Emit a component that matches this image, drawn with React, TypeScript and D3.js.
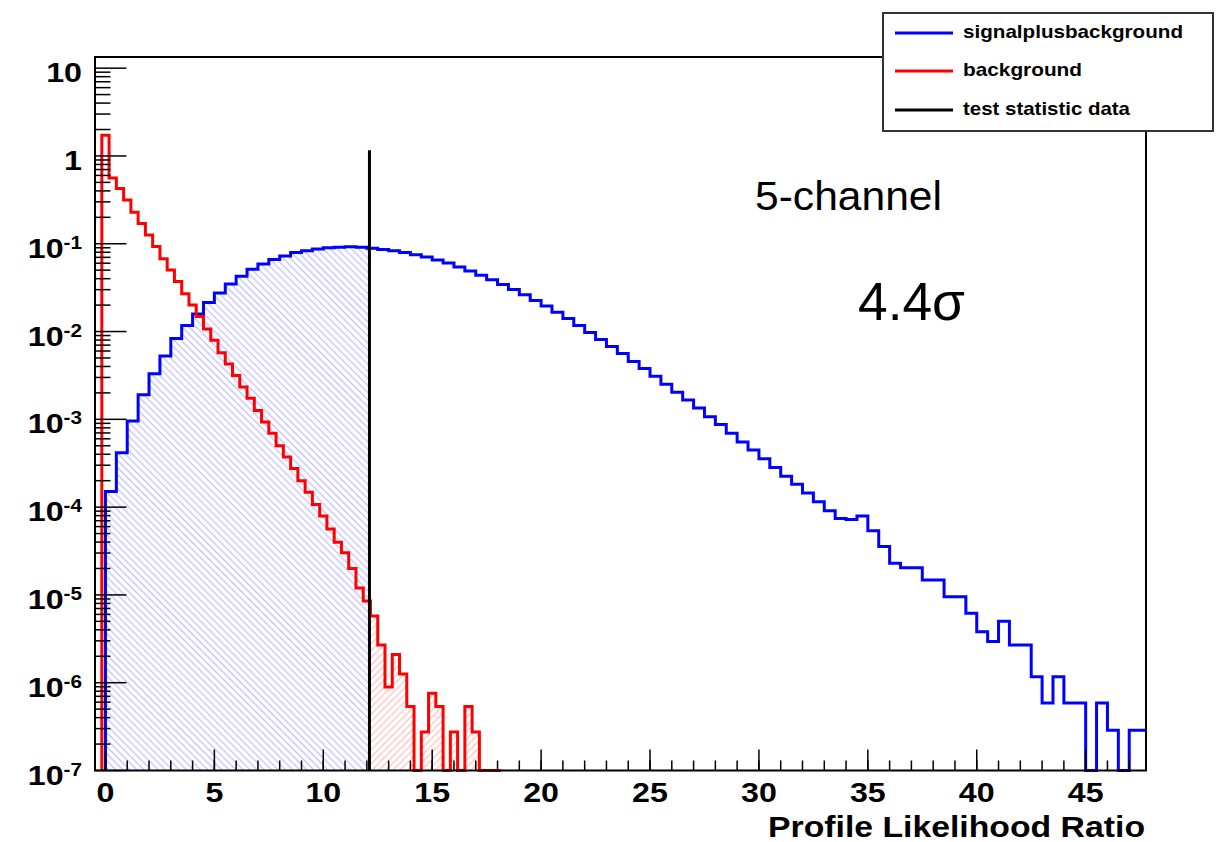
import React from 'react';
import * as d3 from 'd3';

// ---- Data ----
// signal+background toy distribution: 0.5-wide bins starting at 0
const sbStart = 0;
const sbBinWidth = 0.5;
const sbValues = [
  1.51e-4, 4.17e-4, 9.55e-4, 1.91e-3, 3.31e-3, 5.25e-3, 8.32e-3, 1.175e-2, 1.585e-2, 2.14e-2,
  2.75e-2, 3.47e-2, 4.27e-2, 5.13e-2, 5.89e-2, 6.61e-2, 7.24e-2, 7.94e-2, 8.32e-2, 8.71e-2,
  9.02e-2, 9.12e-2, 9.23e-2, 9.12e-2, 8.91e-2, 8.61e-2, 8.32e-2, 7.94e-2, 7.5e-2, 7.08e-2,
  6.53e-2, 6.03e-2, 5.43e-2, 4.9e-2, 4.37e-2, 3.89e-2, 3.43e-2, 3.02e-2, 2.63e-2, 2.26e-2,
  1.95e-2, 1.66e-2, 1.41e-2, 1.175e-2, 9.77e-3, 8.13e-3, 6.76e-3, 5.62e-3, 4.57e-3, 3.8e-3,
  3.09e-3, 2.51e-3, 2.04e-3, 1.66e-3, 1.35e-3, 1.07e-3, 8.71e-4, 6.92e-4, 5.5e-4, 4.47e-4,
  3.55e-4, 2.82e-4, 2.24e-4, 1.82e-4, 1.45e-4, 1.15e-4, 9.12e-5, 7.41e-5, 7.24e-5, 7.94e-5,
  5.37e-5, 3.55e-5, 2.29e-5, 2.04e-5, 2.04e-5, 1.48e-5, 1.48e-5, 9.55e-6, 9.55e-6, 6.17e-6,
  3.8e-6, 2.95e-6, 5.01e-6, 2.69e-6, 2.69e-6, 1.17e-6, 5.89e-7, 1.17e-6, 5.89e-7, 5.89e-7,
  0, 5.89e-7, 2.88e-7, 0, 2.88e-7, 2.88e-7,
];

// background-only toy distribution: 1/3-wide bins centred on multiples of 1/3
const bStart = -1 / 6;
const bBinWidth = 1 / 3;
const bValues = [
  1.72, 0.562, 0.427, 0.316, 0.229, 0.17, 0.126, 0.0933, 0.0676, 0.0501,
  0.0372, 0.0269, 0.02, 0.0148, 0.0107, 7.94e-3, 5.75e-3, 4.27e-3, 3.16e-3, 2.34e-3,
  1.74e-3, 1.26e-3, 9.33e-4, 6.92e-4, 5.01e-4, 3.72e-4, 2.75e-4, 2.0e-4, 1.48e-4, 1.07e-4,
  7.94e-5, 5.62e-5, 3.98e-5, 3.02e-5, 2.0e-5, 1.2e-5, 8.51e-6, 5.75e-6, 2.69e-6, 8.91e-7,
  2.09e-6, 1.26e-6, 5.37e-7, 0, 2.75e-7, 7.59e-7, 5.37e-7, 0, 2.75e-7, 0,
  5.37e-7, 2.75e-7, 0, 0, 0,
];

// observed test statistic
const dataStat = 12.12;
const dataLineTop = 1.16;

const X_MIN = -0.48;
const X_MAX = 47.77;
const Y_MIN = 1e-7;
const Y_MAX = 13.4;

const xMajorTicks = [0, 5, 10, 15, 20, 25, 30, 35, 40, 45];
const xMinorTicks = d3.range(0, 48, 1);
const yDecades = [-7, -6, -5, -4, -3, -2, -1, 0, 1];
const yMinorMult = [2, 3, 4, 5, 6, 7, 8, 9];

const legendLabels = ['signalplusbackground', 'background', 'test statistic data'];
const legendColors = ['#0000ff', '#ff0000', '#000000'];
const legendWidths = [220, 119, 167];

const FONT = "'Liberation Sans', Arial, Helvetica, sans-serif";

function stepPoints(
  start: number,
  width: number,
  values: number[],
  x: (v: number) => number,
  y: (v: number) => number,
  yBottom: number
): [number, number][] {
  const pts: [number, number][] = [[x(start), yBottom]];
  values.forEach((v, i) => {
    const yy = v >= Y_MIN ? y(v) : yBottom;
    pts.push([x(start + i * width), yy]);
    pts.push([x(start + (i + 1) * width), yy]);
  });
  pts.push([x(start + values.length * width), yBottom]);
  return pts;
}

export default function App() {
  const W = 1228;
  const H = 842;
  const left = 95;
  const right = 1146;
  const top = 57;
  const bottom = 770.5;

  const x = d3.scaleLinear().domain([X_MIN, X_MAX]).range([left, right]);
  const y = d3.scaleLog().domain([Y_MIN, Y_MAX]).range([bottom, top]);
  const line = d3.line<[number, number]>();

  const sbPts = stepPoints(sbStart, sbBinWidth, sbValues, x, y, bottom);
  const bPts = stepPoints(bStart, bBinWidth, bValues, x, y, bottom);
  const sbPath = line(sbPts) || '';
  const bPath = line(bPts) || '';
  const bEnd = bStart + bValues.length * bBinWidth;

  const yMinor: number[] = [];
  yDecades.forEach((k) => {
    yMinorMult.forEach((m) => {
      const v = m * Math.pow(10, k);
      if (v > Y_MIN && v < Y_MAX) yMinor.push(v);
    });
  });

  return (
    <svg width={W} height={H} style={{ position: 'fixed', left: 0, top: 0, background: '#fff' }}>
      <defs>
        <clipPath id="plotClip">
          <rect x={left} y={top} width={right - left} height={bottom - top + 2} />
        </clipPath>
        <clipPath id="sbHatchClip">
          <rect x={x(sbStart)} y={top} width={x(dataStat) - x(sbStart)} height={bottom - top} />
        </clipPath>
        <clipPath id="bHatchClip">
          <rect x={x(dataStat)} y={top} width={x(bEnd) - x(dataStat)} height={bottom - top} />
        </clipPath>
        <pattern id="hatchBlue" patternUnits="userSpaceOnUse" width={5} height={5} patternTransform="rotate(-45)">
          <line x1={2.5} y1={-1} x2={2.5} y2={6} stroke="#c0c0ff" strokeWidth={1.3} />
        </pattern>
        <pattern id="hatchRed" patternUnits="userSpaceOnUse" width={5} height={5} patternTransform="rotate(45)">
          <line x1={2.5} y1={-1} x2={2.5} y2={6} stroke="#ffc0c0" strokeWidth={1.3} />
        </pattern>
      </defs>

      {/* hatched areas */}
      <g clipPath="url(#plotClip)">
        <g clipPath="url(#sbHatchClip)">
          <path d={sbPath + 'Z'} fill="url(#hatchBlue)" stroke="none" />
        </g>
        <g clipPath="url(#bHatchClip)">
          <path d={bPath + 'Z'} fill="url(#hatchRed)" stroke="none" />
        </g>
        <path d={sbPath} fill="none" stroke="#0000ff" strokeWidth={3} />
        <path d={bPath} fill="none" stroke="#ff0000" strokeWidth={3} />
        <line
          x1={x(dataStat)}
          x2={x(dataStat)}
          y1={bottom}
          y2={y(dataLineTop)}
          stroke="#000"
          strokeWidth={3}
        />
      </g>

      {/* axis ticks */}
      <g stroke="#000" strokeWidth={1.5}>
        {yDecades.map((k) => (
          <line key={'yM' + k} x1={left} x2={left + 31.5} y1={y(Math.pow(10, k))} y2={y(Math.pow(10, k))} />
        ))}
        {yMinor.map((v, i) => (
          <line key={'ym' + i} x1={left} x2={left + 15.5} y1={y(v)} y2={y(v)} />
        ))}
        {xMinorTicks.map((t) => (
          <line key={'xm' + t} x1={x(t)} x2={x(t)} y1={bottom} y2={bottom - 10} />
        ))}
        {xMajorTicks.map((t) => (
          <line key={'xM' + t} x1={x(t)} x2={x(t)} y1={bottom} y2={bottom - 21} />
        ))}
      </g>

      {/* frame */}
      <rect x={left} y={top} width={right - left} height={bottom - top} fill="none" stroke="#000" strokeWidth={2} />

      {/* tick labels */}
      <g fontFamily={FONT} fontWeight="bold" fill="#000">
        {yDecades.map((k) => (
          <g key={'yl' + k} transform={`translate(82,${y(Math.pow(10, k)) + 14}) scale(1.15,1)`}>
            <text textAnchor="end" fontSize={28}>
              {k === 0 ? '1' : '10'}
              {k !== 0 && k !== 1 ? (
                <tspan fontSize={18} dy={-9}>
                  {String(k)}
                </tspan>
              ) : null}
            </text>
          </g>
        ))}
        {xMajorTicks.map((t) => (
          <g key={'xl' + t} transform={`translate(${x(t)},802) scale(1.15,1)`}>
            <text textAnchor="middle" fontSize={28}>
              {String(t)}
            </text>
          </g>
        ))}
        <text x={768} y={837} fontSize={29} textLength={377} lengthAdjust="spacingAndGlyphs">
          Profile Likelihood Ratio
        </text>
      </g>

      {/* annotations */}
      <text x={755} y={210} fontFamily={FONT} fontSize={41} textLength={187} lengthAdjust="spacingAndGlyphs">
        5-channel
      </text>
      <text x={858} y={320} fontFamily={FONT} fontSize={53} textLength={107} lengthAdjust="spacingAndGlyphs">
        4.4σ
      </text>

      {/* legend */}
      <g>
        <rect x={883} y={13} width={330} height={118} fill="#fff" stroke="#333" strokeWidth={2} />
        {legendLabels.map((lab, i) => {
          const ly = [33, 71, 110][i];
          return (
            <g key={lab}>
              <line x1={895} x2={953} y1={ly} y2={ly} stroke={legendColors[i]} strokeWidth={3} />
              <text
                x={963}
                y={ly + 5}
                fontFamily={FONT}
                fontWeight="bold"
                fontSize={19}
                textLength={legendWidths[i]}
                lengthAdjust="spacingAndGlyphs"
                fill="#000"
              >
                {lab}
              </text>
            </g>
          );
        })}
      </g>
    </svg>
  );
}
